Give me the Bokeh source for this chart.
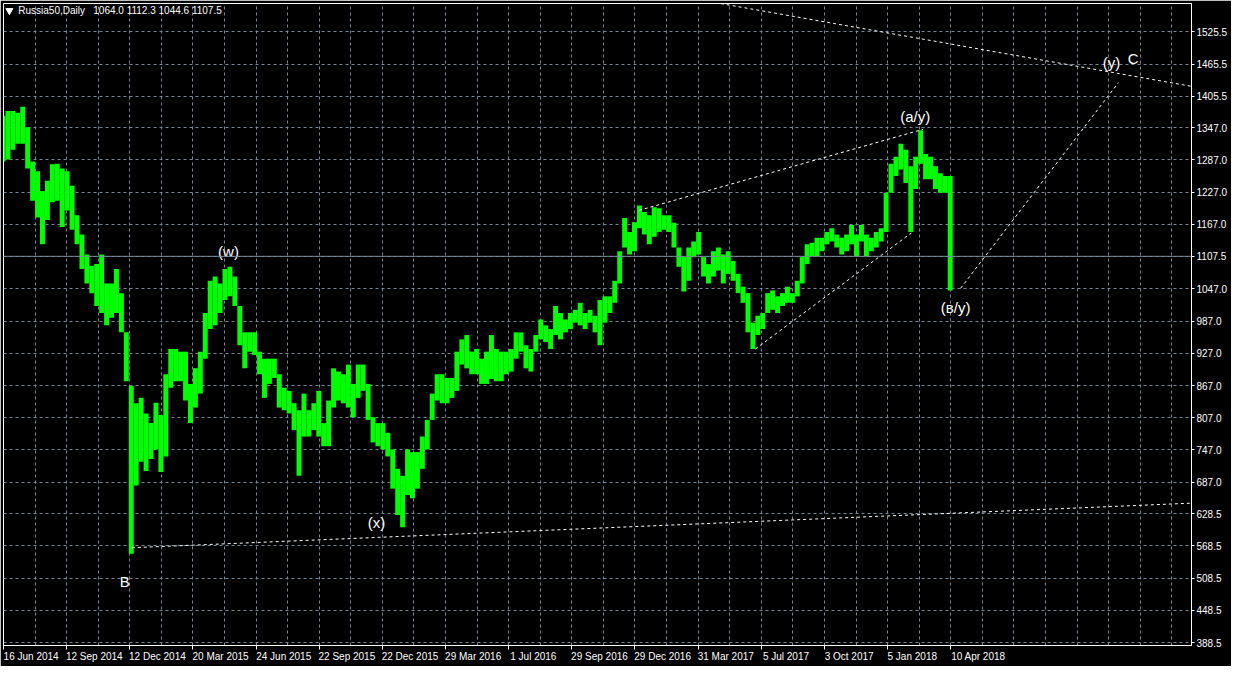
from bokeh.plotting import figure
from bokeh.models import FixedTicker, PrintfTickFormatter, Span, Range1d
from bokeh.core.properties import value
from bokeh.embed import file_html
from bokeh.resources import INLINE

# ---- data (weekly high / low) ----
week_high = [1369, 1378, 1378, 1375, 1386, 1348, 1284, 1266, 1229, 1248,
             1279, 1280, 1271, 1266, 1239, 1184, 1148, 1111, 1090, 1093,
             1111, 1057, 1057, 1084, 1039, 966, 866, 834, 844, 815,
             797, 835, 812, 888, 935, 935, 930, 930, 870, 899,
             930, 1002, 1062, 1070, 1057, 1084, 1088, 1070, 1015, 966,
             966, 966, 930, 917, 917, 917, 888, 863, 857, 834,
             821, 852, 821, 834, 857, 797, 839, 899, 893, 888,
             906, 870, 906, 906, 870, 808, 797, 797, 779, 748,
             712, 699, 748, 743, 743, 772, 803, 852, 888, 888,
             881, 881, 930, 953, 961, 930, 935, 917, 930, 961,
             935, 930, 930, 935, 966, 966, 942, 935, 961, 990,
             979, 972, 1015, 1002, 990, 1002, 1008, 1021, 1002, 1008,
             997, 1026, 1033, 1033, 1062, 1117, 1179, 1153, 1171, 1202,
             1190, 1184, 1199, 1197, 1184, 1184, 1170, 1124, 1106, 1124,
             1135, 1153, 1106, 1093, 1117, 1124, 1111, 1117, 1099, 1075,
             1051, 1039, 984, 997, 1002, 1039, 1044, 1033, 1039, 1051,
             1039, 1062, 1106, 1130, 1133, 1142, 1142, 1153, 1160, 1148,
             1142, 1148, 1166, 1148, 1166, 1148, 1142, 1153, 1160, 1226,
             1280, 1293, 1317, 1306, 1275, 1293, 1342, 1298, 1293, 1275,
             1262, 1257, 1257]
week_low = [1284, 1288, 1306, 1317, 1317, 1271, 1211, 1180, 1130, 1175,
            1208, 1211, 1162, 1193, 1157, 1130, 1084, 1057, 1039, 1015,
            1002, 979, 993, 1002, 966, 875, 554, 681, 725, 708,
            730, 748, 706, 735, 863, 875, 875, 839, 797, 826,
            852, 917, 972, 979, 1002, 1026, 1033, 1015, 942, 899,
            930, 924, 888, 844, 870, 881, 826, 821, 815, 784,
            699, 772, 772, 784, 772, 754, 754, 826, 839, 834,
            826, 808, 844, 857, 803, 761, 754, 748, 735, 675,
            626, 603, 663, 657, 675, 712, 748, 803, 839, 834,
            834, 844, 857, 906, 899, 888, 888, 870, 870, 879,
            875, 875, 888, 893, 917, 930, 899, 893, 930, 953,
            948, 935, 961, 953, 966, 972, 984, 979, 972, 984,
            966, 942, 984, 1002, 1021, 1057, 1124, 1111, 1117, 1160,
            1148, 1130, 1144, 1153, 1157, 1153, 1124, 1088, 1042, 1062,
            1106, 1111, 1070, 1057, 1070, 1081, 1057, 1075, 1062, 1039,
            1021, 966, 935, 961, 972, 1002, 1008, 1002, 1015, 1021,
            1021, 1033, 1057, 1093, 1108, 1108, 1117, 1130, 1135, 1124,
            1111, 1117, 1130, 1108, 1135, 1108, 1117, 1124, 1135, 1153,
            1226, 1257, 1269, 1244, 1153, 1233, 1280, 1251, 1251, 1233,
            1226, 1226, 1044]

date_labels = ["16 Jun 2014", "12 Sep 2014", "12 Dec 2014", "20 Mar 2015",
               "24 Jun 2015", "22 Sep 2015", "22 Dec 2015", "29 Mar 2016",
               "1 Jul 2016", "29 Sep 2016", "29 Dec 2016", "31 Mar 2017",
               "5 Jul 2017", "3 Oct 2017", "5 Jan 2018", "10 Apr 2018"]

price_ticks = [388.5, 448.5, 508.5, 568.5, 628.5, 687.0, 747.0, 807.0, 867.0,
               927.0, 987.0, 1047.0, 1107.5, 1167.0, 1227.0, 1287.0, 1347.0,
               1405.5, 1465.5, 1525.5]

symbol = "Russia50,Daily"
ohlc = [1064.0, 1112.3, 1044.6, 1107.5]
last_price = 1107.5

# trend lines: (day, price) endpoints
tl_x0 = [727, 130, 644, 762, 970]
tl_y0 = [1578, 565, 1193, 935, 1048]
tl_x1 = [1204, 1204, 932, 920, 1130]
tl_y1 = [1424, 648, 1344, 1151, 1431]

wave_text = ["B", "(w)", "(x)", "(a/y)", "(в/y)", "(y)", "C"]
wave_day = [123, 228, 378, 924, 965, 1123, 1145]
wave_price = [503, 1117, 612, 1368, 1013, 1469, 1476]

# ---- styling ----
GRID = "#778899"
GREEN = "#00ff00"
FONT = "Liberation Sans"
W, H = 1231, 666
RIGHT = 40

p = figure(width=W, height=H, x_range=Range1d(0, 1204), y_range=Range1d(383.0, 1578.2),
           output_backend="svg", toolbar_location=None, y_axis_location="right",
           min_border_left=3, min_border_top=3, min_border_right=RIGHT, min_border_bottom=21,
           background_fill_color="black", border_fill_color="black",
           outline_line_color="white", outline_line_width=1)

# x axis: labels start at their tick (MT4 style)
tick_days = [64 * i for i in range(len(date_labels))]
label_pos = [int(round(d + 2.5 * len(lab))) for d, lab in zip(tick_days, date_labels)]
xa = p.xaxis[0]
xa.ticker = FixedTicker(ticks=label_pos, minor_ticks=tick_days)
xa.major_label_overrides = {pos: lab for pos, lab in zip(label_pos, date_labels)}
xa.major_tick_line_color = None
xa.major_tick_out = 4
xa.major_tick_in = 0
xa.minor_tick_line_color = "white"
xa.minor_tick_out = 4
xa.minor_tick_in = 0
xa.axis_line_color = "white"
xa.major_label_standoff = 1
xa.major_label_text_color = "white"
xa.major_label_text_font = FONT
xa.major_label_text_font_size = "10px"

ya = p.yaxis[0]
ya.ticker = FixedTicker(ticks=price_ticks)
ya.formatter = PrintfTickFormatter(format="%.1f")
ya.major_tick_line_color = "white"
ya.major_tick_out = 3
ya.major_tick_in = 0
ya.minor_tick_line_color = None
ya.axis_line_color = "white"
ya.major_label_standoff = 2
ya.major_label_text_color = "white"
ya.major_label_text_font = FONT
ya.major_label_text_font_size = "10px"

p.xgrid.ticker = FixedTicker(ticks=[32 * i for i in range(1, 38)])
p.ygrid.ticker = FixedTicker(ticks=price_ticks)
for g in (p.xgrid[0], p.ygrid[0]):
    g.grid_line_color = GRID
    g.grid_line_dash = "3 3"
    g.grid_line_width = 1

p.add_layout(Span(location=last_price, dimension="width", line_color=GRID, line_width=1))

days = [5 * k - 0.5 for k in range(len(week_high))]
p.vbar(x=days, width=5, top=week_high, bottom=week_low,
       fill_color=GREEN, line_color=None)

p.segment(x0=tl_x0, y0=tl_y0, x1=tl_x1, y1=tl_y1, line_color="white",
          line_dash="3 3", line_width=1)

p.text(x=wave_day, y=wave_price, text=wave_text, text_color="white",
       text_font=value("Liberation Sans"), text_font_size="15px",
       text_align="center", text_baseline="middle")

# header
p.scatter(x=[6], y=[1565], marker="inverted_triangle", size=7, color="white")
p.text(x=[15, 91], y=[1565, 1565],
       text=[symbol, " ".join("%.1f" % v for v in ohlc)],
       text_color="white", text_font=value(FONT), text_font_size="10px",
       text_align="left", text_baseline="middle")

open("out.html", "w").write(file_html(p, INLINE))
